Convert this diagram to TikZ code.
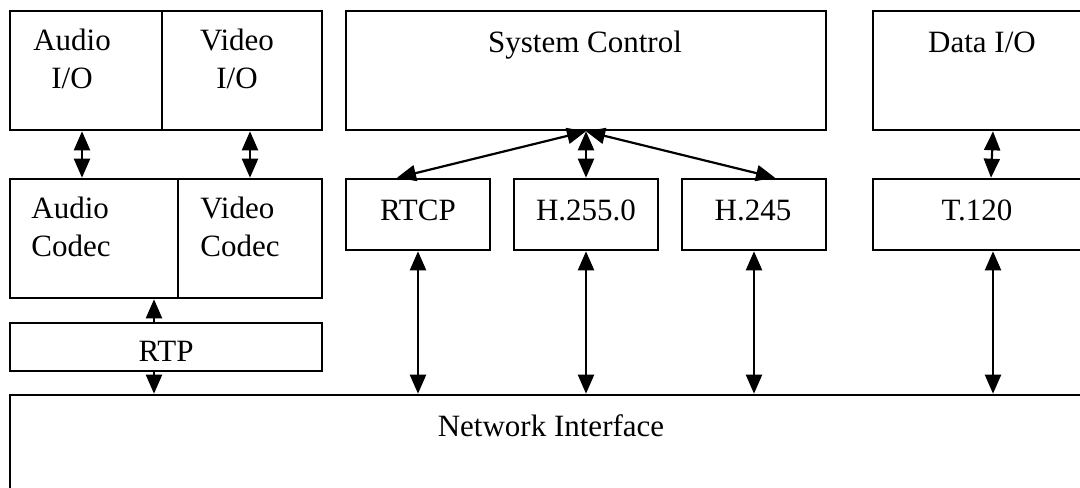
\documentclass[tikz,border=0pt]{standalone}
\usepackage{fontspec}
\setmainfont{Liberation Serif}
\usetikzlibrary{arrows.meta,fit,calc}
\begin{document}
\begin{tikzpicture}[x=0.5pt,y=-0.5pt,
  box/.style={draw, line width=1.3pt, inner sep=0pt},
  lbl/.style={inner sep=0pt, font=\fontsize{15.5}{18.75}\selectfont},
  arr/.style={line width=1.1pt},
  >={Triangle[length=9.5pt,width=8pt]}]
\useasboundingbox (0,0) rectangle (1080,487);
\clip (0,0) rectangle (1080,487);
% boxes
\node[box, fit={(10,11) (162,130)}] (audioio) {};
\node[box, fit={(162,11) (322,130)}] (videoio) {};
\node[box, fit={(10,179) (178,298)}] (audiocodec) {};
\node[box, fit={(178,179) (322,298)}] (videocodec) {};
\node[box, fit={(10,323) (322,371)}] (rtp) {};
\node[box, fit={(10,395) (1090,530)}] (net) {};
\node[box, fit={(346,11) (826,130)}] (sys) {};
\node[box, fit={(346,179) (490,250)}] (rtcp) {};
\node[box, fit={(514,179) (658,250)}] (h2250) {};
\node[box, fit={(682,179) (826,250)}] (h245) {};
\node[box, fit={(873,11) (1090,130)}] (dataio) {};
\node[box, fit={(873,179) (1090,250)}] (t120) {};
% labels (multi-line: base = last line)
\node[lbl, anchor=base, align=center] (taudioio) at (72,88) {Audio\\I/O};
\node[lbl, anchor=base, align=center] (tvideoio) at (237,88) {Video\\I/O};
\node[lbl, anchor=base west, align=left] (taudiocodec) at (31,256) {Audio\\Codec};
\node[lbl, anchor=base west, align=left] (tvideocodec) at (200,256) {Video\\Codec};
\node[lbl, anchor=base] (trtp) at (166,361) {RTP};
\node[lbl, anchor=base] (tsys) at (585,52) {System Control};
\node[lbl, anchor=base] (tdataio) at (982,52) {Data I/O};
\node[lbl, anchor=base] (trtcp) at (418,220) {RTCP};
\node[lbl, anchor=base] (th2250) at (586,220) {H.255.0};
\node[lbl, anchor=base] (th245) at (753,220) {H.245};
\node[lbl, anchor=base] (tt120) at (977,220) {T.120};
\node[lbl, anchor=base] (tnet) at (551,436) {Network Interface};
% connectors
\coordinate (a1) at ($(audioio.south)+(-4,0)$);
\draw[arr,<->] (a1) -- (a1 |- audiocodec.north);
\draw[arr,<->] (videocodec.north |- videoio.south) -- (videocodec.north);
\coordinate (r1) at ($(rtp.north)+(-12,0)$);
\draw[arr,->] (r1) -- (r1 |- audiocodec.south);
\coordinate (r2) at ($(rtp.south)+(-12,0)$);
\draw[arr,->] (r2) -- (r2 |- net.north);
\draw[arr,<->] (sys.south) -- ($(rtcp.north)+(-21,0)$);
\draw[arr,<->] (sys.south) -- (h2250.north);
\draw[arr,<->] (sys.south) -- ($(h245.north)+(21,0)$);
\draw[arr,<->] ($(dataio.south)+(11.5,0)$) -- ($(t120.north)+(9.5,0)$);
\draw[arr,<->] (rtcp.south) -- (rtcp.south |- net.north);
\draw[arr,<->] (h2250.south) -- (h2250.south |- net.north);
\draw[arr,<->] (h245.south) -- (h245.south |- net.north);
\coordinate (t1) at ($(t120.south)+(11.5,0)$);
\draw[arr,<->] (t1) -- (t1 |- net.north);
\end{tikzpicture}
\end{document}
